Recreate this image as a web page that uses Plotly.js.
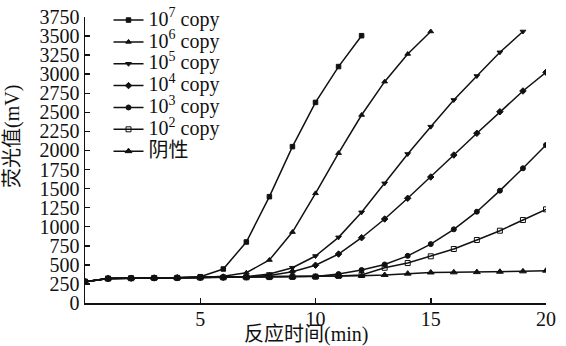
<!DOCTYPE html>
<html>
<head>
<meta charset="utf-8">
<script src="https://cdn.plot.ly/plotly-3.0.1.min.js"></script>
<style>html,body{margin:0;padding:0;background:#fff;}#chart{width:566px;height:346px;}</style>
</head>
<body>
<div id="chart"></div>
<script>
const time = [0,1,2,3,4,5,6,7,8,9,10,11,12,13,14,15,16,17,18,19,20];
const seriesNames = ["10<sup>7</sup> copy","10<sup>6</sup> copy","10<sup>5</sup> copy","10<sup>4</sup> copy","10<sup>3</sup> copy","10<sup>2</sup> copy","阴性"];
const s1e7 = [280,320,325,328,330,345,446,800,1394,2050,2630,3100,3505];
const s1e6 = [280,320,325,328,330,335,350,397,564,930,1438,1965,2465,2902,3265,3560];
const s1e5 = [280,320,325,328,330,335,338,345,380,463,616,861,1189,1569,1954,2312,2662,2976,3287,3560];
const s1e4 = [280,320,325,328,330,335,338,342,360,410,495,642,856,1101,1373,1652,1940,2225,2508,2780,3025];
const s1e3 = [280,320,325,328,330,333,335,337,340,342,348,380,433,505,618,772,966,1197,1473,1766,2071];
const s1e2 = [280,320,325,328,330,333,335,337,340,342,345,355,367,462,524,612,708,826,948,1088,1228];
const sNeg = [280,320,325,328,330,333,335,337,340,342,345,354,358,367,385,400,402,405,410,415,424];
const yTicks = [0,250,500,750,1000,1250,1500,1750,2000,2250,2500,2750,3000,3250,3500,3750];
const xTicks = [5,10,15,20];
const xTitle = "反应时间(min)";
const yTitle = "荧光值(mV)";

const allSeries = [s1e7,s1e6,s1e5,s1e4,s1e3,s1e2,sNeg];
const markers = [
  {symbol:"square", size:4.5},
  {symbol:"triangle-up", size:5},
  {symbol:"triangle-down", size:5},
  {symbol:"diamond", size:5},
  {symbol:"circle", size:5},
  {symbol:"square-open", size:5},
  {symbol:"triangle-up", size:6}
];
const traces = allSeries.map((ys,i)=>({
  x: time.slice(0, ys.length),
  y: ys,
  name: "<span style='font-size:20px'>" + seriesNames[i] + "</span>",
  type: "scatter",
  mode: "lines+markers",
  line: {color:"#111", width:1.5},
  marker: Object.assign({color:"#111", line:{color:"#111", width:1}}, markers[i])
}));

const serif = "'Liberation Serif', 'Times New Roman', 'Noto Sans CJK SC', serif";
const layout = {
  width: 566, height: 346,
  margin: {l:85, r:20, t:17, b:43, autoexpand:false},
  paper_bgcolor: "#fff", plot_bgcolor: "#fff",
  font: {family: serif, size: 18, color: "#111"},
  showlegend: true,
  legend: {x:0.051, y:1.045, xanchor:"left", yanchor:"top", bgcolor:"rgba(0,0,0,0)",
           font:{family: serif, size:14.5, color:"#111"}, tracegroupgap:0, itemwidth:30},
  xaxis: {
    range:[0,20], tickvals: xTicks, ticktext: xTicks.map(String),
    ticks:"inside", ticklen:5, tickwidth:1.5, tickcolor:"#111",
    showline:true, linecolor:"#111", linewidth:1.5, showgrid:false, zeroline:false,
    ticklabelstandoff:-3,
    tickfont:{family: serif, size:20, color:"#111"}
  },
  yaxis: {
    range:[0,3750], tickvals: yTicks, ticktext: yTicks.map(String),
    ticks:"inside", ticklen:5, tickwidth:1.5, tickcolor:"#111",
    showline:true, linecolor:"#111", linewidth:1.5, showgrid:false, zeroline:false,
    tickfont:{family: serif, size:20, color:"#111"}
  },
  annotations: [
    {text:xTitle, xref:"paper", yref:"paper", x:(306-85)/461, y:(303-334)/286,
     xanchor:"center", yanchor:"middle", showarrow:false,
     font:{family: serif, size:20, color:"#111"}},
    {text:yTitle, xref:"paper", yref:"paper", x:(12-85)/461, y:(303-137)/286,
     xanchor:"center", yanchor:"middle", showarrow:false, textangle:-90,
     font:{family: serif, size:20, color:"#111"}}
  ]
};
Plotly.newPlot("chart", traces, layout, {displayModeBar:false, staticPlot:true});
</script>
</body>
</html>
